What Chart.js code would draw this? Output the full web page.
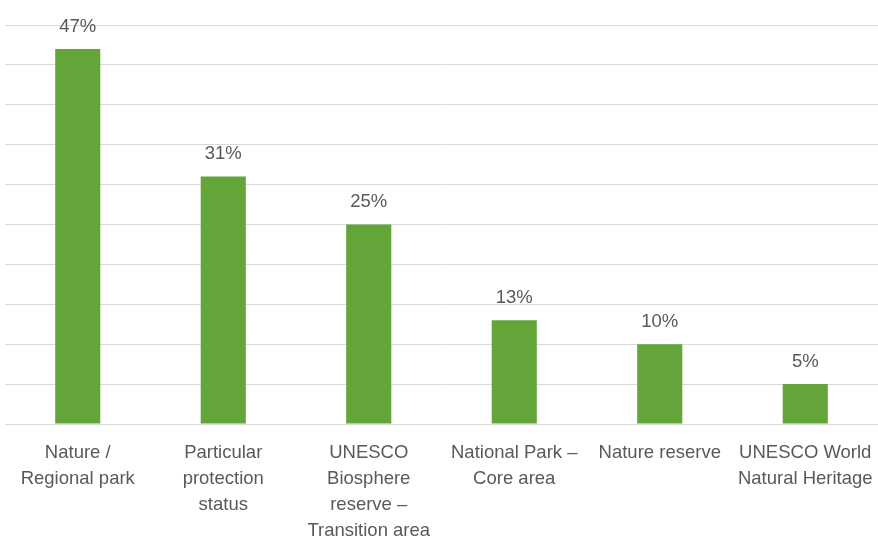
<!DOCTYPE html>
<html>
<head>
<meta charset="utf-8">
<script src="https://cdn.jsdelivr.net/npm/chart.js@4/dist/chart.umd.min.js"></script>
<style>
html,body{margin:0;padding:0;background:#fff;}
#wrap{width:878px;height:536px;}
</style>
</head>
<body>
<div id="wrap"><canvas id="c" width="878" height="536"></canvas></div>
<script>
const categories = [
  ["Nature /", "Regional park"],
  ["Particular", "protection", "status"],
  ["UNESCO", "Biosphere", "reserve –", "Transition area"],
  ["National Park –", "Core area"],
  "Nature reserve",
  ["UNESCO World", "Natural Heritage"]
];
const values = [47, 31, 25, 13, 10, 5];
const valueLabels = ["47%", "31%", "25%", "13%", "10%", "5%"];
const yMin = 0, yMax = 50, yStep = 5;

const FONT = "'Liberation Sans', Arial, sans-serif";
const TEXT = '#595959';

const labelPlugin = {
  id: 'valueLabels',
  afterDatasetsDraw(chart) {
    const ctx = chart.ctx;
    const meta = chart.getDatasetMeta(0);
    ctx.save();
    ctx.font = '18.5px ' + FONT;
    ctx.fillStyle = TEXT;
    ctx.textAlign = 'center';
    ctx.textBaseline = 'bottom';
    meta.data.forEach((bar, i) => {
      ctx.fillText(valueLabels[i], bar.x, bar.y - 13);
    });
    ctx.restore();
  }
};

new Chart(document.getElementById('c'), {
  type: 'bar',
  data: {
    labels: categories,
    datasets: [{
      data: values,
      backgroundColor: '#63a539',
      barPercentage: 1,
      categoryPercentage: 0.31
    }]
  },
  options: {
    responsive: false,
    animation: false,
    layout: { padding: { left: 5, right: 0, top: 25, bottom: 0 } },
    plugins: { legend: { display: false }, tooltip: { enabled: false } },
    scales: {
      x: {
        grid: { display: false },
        border: { display: true, color: '#d9d9d9', width: 1 },
        ticks: {
          color: TEXT,
          font: { family: FONT, size: 18.5, lineHeight: 1.4 },
          maxRotation: 0,
          minRotation: 0,
          autoSkip: false,
          padding: 8
        },
        afterFit(scale) { scale.height = 112; scale.paddingLeft = 0; scale.paddingRight = 0; }
      },
      y: {
        min: yMin,
        max: yMax,
        ticks: { display: false, stepSize: yStep },
        grid: { color: '#d9d9d9', lineWidth: 1, drawTicks: false },
        border: { display: false },
        afterFit(scale) { scale.width = 0; }
      }
    }
  },
  plugins: [labelPlugin]
});
</script>
</body>
</html>
